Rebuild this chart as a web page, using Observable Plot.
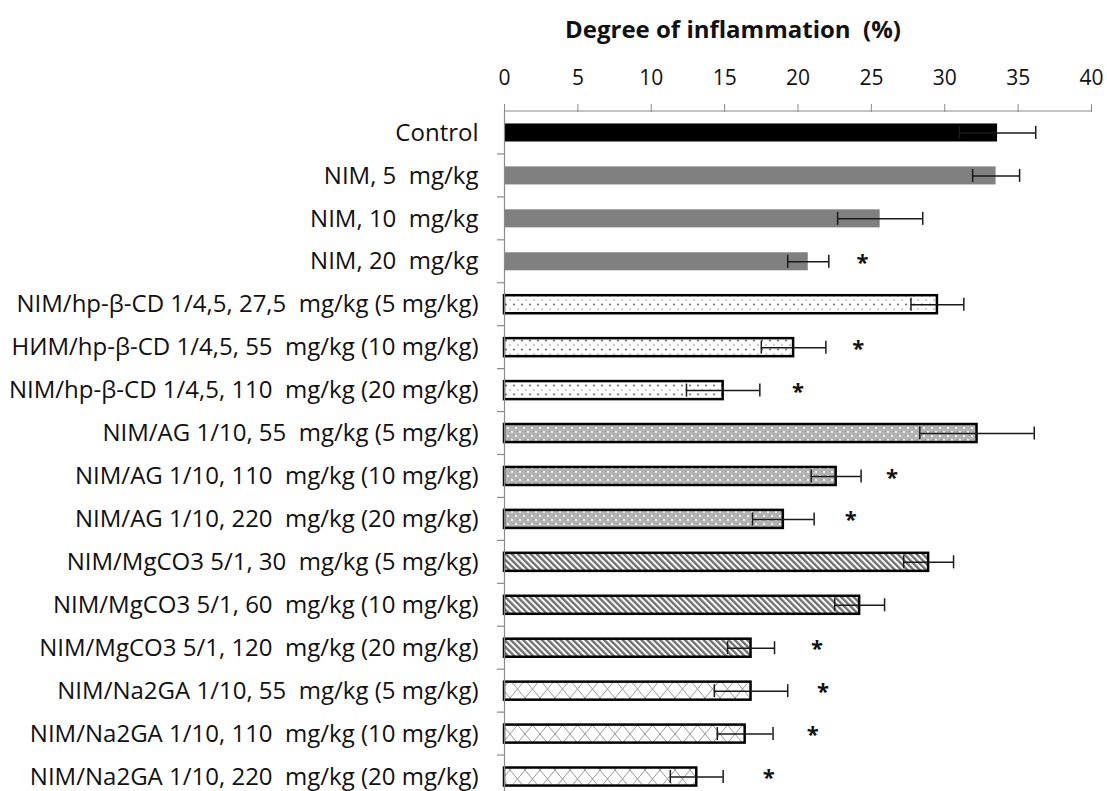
<!DOCTYPE html>
<html><head><meta charset="utf-8">
<script src="https://cdn.jsdelivr.net/npm/d3@7"></script>
<script src="https://cdn.jsdelivr.net/npm/@observablehq/plot@0.6"></script>
<style>
html,body{margin:0;padding:0;background:#fff;overflow:hidden;}
#title{box-sizing:border-box;height:50px;padding-top:14px;padding-left:565px;font-family:"Open Sans",sans-serif;font-weight:bold;font-size:24px;line-height:30px;white-space:pre;color:#111;}
svg text{white-space:pre;}
g[aria-label^="y-axis"] text{font-size:24px;}
</style></head><body>
<div id="title">Degree of inflammation  (%)</div>
<div id="chart"></div>
<script>
const categories = [
  "Control",
  "NIM, 5  mg/kg",
  "NIM, 10  mg/kg",
  "NIM, 20  mg/kg",
  "NIM/hp-β-CD 1/4,5, 27,5  mg/kg (5 mg/kg)",
  "НИМ/hp-β-CD 1/4,5, 55  mg/kg (10 mg/kg)",
  "NIM/hp-β-CD 1/4,5, 110  mg/kg (20 mg/kg)",
  "NIM/AG 1/10, 55  mg/kg (5 mg/kg)",
  "NIM/AG 1/10, 110  mg/kg (10 mg/kg)",
  "NIM/AG 1/10, 220  mg/kg (20 mg/kg)",
  "NIM/MgCO3 5/1, 30  mg/kg (5 mg/kg)",
  "NIM/MgCO3 5/1, 60  mg/kg (10 mg/kg)",
  "NIM/MgCO3 5/1, 120  mg/kg (20 mg/kg)",
  "NIM/Na2GA 1/10, 55  mg/kg (5 mg/kg)",
  "NIM/Na2GA 1/10, 110  mg/kg (10 mg/kg)",
  "NIM/Na2GA 1/10, 220  mg/kg (20 mg/kg)"
];
const groups = ["control","nim","nim","nim","hp","hp","hp","ag","ag","ag","mg","mg","mg","na","na","na"];
const values = [33.6, 33.5, 25.6, 20.7, 29.5, 19.7, 14.9, 32.2, 22.6, 19.0, 28.9, 24.2, 16.8, 16.8, 16.4, 13.1];
const errors = [2.6, 1.6, 2.9, 1.4, 1.8, 2.2, 2.5, 3.9, 1.7, 2.1, 1.7, 1.7, 1.6, 2.5, 1.9, 1.8];
const starX  = [null, null, null, 24.4, null, 24.1, 20.0, null, 26.4, 23.6, null, null, 21.3, 21.7, 21.0, 18.0];
const xTicks = [0, 5, 10, 15, 20, 25, 30, 35, 40];

const data = categories.map((c, i) => ({cat: c, group: groups[i], v: values[i], e: errors[i], star: starX[i]}));
const fills = {control: "#000000", nim: "#808080", hp: "url(#p-hp)", ag: "url(#p-ag)", mg: "url(#p-mg)", na: "url(#p-na)"};
const bordered = new Set(["hp", "ag", "mg", "na"]);

const plot = Plot.plot({
  width: 1107, height: 748,
  marginLeft: 504, marginRight: 16, marginTop: 61, marginBottom: 0,
  style: {fontFamily: "'Open Sans', sans-serif", fontSize: "21px", color: "#111", background: "#fff"},
  x: {domain: [0, 40], axis: "top", ticks: xTicks, tickSize: 8, tickPadding: 19, label: null},
  y: {domain: categories, paddingInner: 0.58, paddingOuter: 0.29, round: false, tickSize: 0, tickPadding: 26, label: null},
  color: {type: "identity"},
  marks: [
    Plot.barX(data.filter(d => !bordered.has(d.group)), {x: "v", y: "cat", fill: d => fills[d.group]}),
    Plot.barX(data.filter(d => bordered.has(d.group)), {x: "v", y: "cat", fill: d => fills[d.group], stroke: "#000", strokeWidth: 2.5}),
    Plot.ruleY(data, {y: "cat", x1: d => d.v - d.e, x2: d => d.v + d.e, stroke: "#1a1a1a", strokeWidth: 1.5}),
    Plot.tickX(data, {y: "cat", x: d => d.v - d.e, stroke: "#1a1a1a", strokeWidth: 1.5, insetTop: 2.5, insetBottom: 2.5}),
    Plot.tickX(data, {y: "cat", x: d => d.v + d.e, stroke: "#1a1a1a", strokeWidth: 1.5, insetTop: 2.5, insetBottom: 2.5}),
    Plot.text(data.filter(d => d.star != null), {x: "star", y: "cat", text: () => "*", fontSize: 22, fontWeight: "bold", dy: 1, fill: "#111"}),
    Plot.ruleX([0], {stroke: "#8a8a8a", strokeWidth: 1.2})
  ]
});

const svg = d3.select(plot);
const defs = svg.insert("defs", ":first-child");
const pHp = defs.append("pattern").attr("id", "p-hp").attr("patternUnits", "userSpaceOnUse").attr("width", 8).attr("height", 9);
pHp.append("rect").attr("width", 8).attr("height", 9).attr("fill", "#fff");
pHp.append("circle").attr("cx", 2).attr("cy", 2.5).attr("r", 0.9).attr("fill", "#555");
pHp.append("circle").attr("cx", 6).attr("cy", 7).attr("r", 0.7).attr("fill", "#777");
const pAg = defs.append("pattern").attr("id", "p-ag").attr("patternUnits", "userSpaceOnUse").attr("width", 8).attr("height", 8);
pAg.append("rect").attr("width", 8).attr("height", 8).attr("fill", "#b3b3b3");
pAg.append("rect").attr("x", 1).attr("y", 1).attr("width", 1).attr("height", 1).attr("fill", "#949494");
pAg.append("rect").attr("x", 5).attr("y", 5).attr("width", 1).attr("height", 1).attr("fill", "#949494");
pAg.append("circle").attr("cx", 4).attr("cy", 2).attr("r", 1.1).attr("fill", "#fff");
pAg.append("circle").attr("cx", 0).attr("cy", 6).attr("r", 1.1).attr("fill", "#fff");
pAg.append("circle").attr("cx", 8).attr("cy", 6).attr("r", 1.1).attr("fill", "#fff");
const pMg = defs.append("pattern").attr("id", "p-mg").attr("patternUnits", "userSpaceOnUse").attr("width", 4.4).attr("height", 10).attr("patternTransform", "rotate(-45)");
pMg.append("rect").attr("width", 4.4).attr("height", 10).attr("fill", "#fff");
pMg.append("rect").attr("width", 2.4).attr("height", 10).attr("fill", "#707070");
const pNa = defs.append("pattern").attr("id", "p-na").attr("patternUnits", "userSpaceOnUse").attr("width", 15).attr("height", 18);
pNa.append("rect").attr("width", 15).attr("height", 18).attr("fill", "#fff");
pNa.append("path").attr("d", "M0,0L15,18M15,0L0,18").attr("stroke", "#999").attr("stroke-width", 1).attr("fill", "none");

const xs = plot.scale("x"), ys = plot.scale("y");
const x0 = xs.apply(0), x40 = xs.apply(40);
const frameTop = ys.range[0];
svg.append("line").attr("x1", x0).attr("x2", x40).attr("y1", frameTop).attr("y2", frameTop).attr("stroke", "#8a8a8a").attr("stroke-width", 1.2);
const gap = (ys.step - ys.bandwidth) / 2;
const bounds = categories.map(c => ys.apply(c) - gap);
bounds.push(ys.apply(categories[categories.length - 1]) + ys.bandwidth + gap);
bounds.slice(1).forEach(b => {
  svg.append("line").attr("x1", x0 - 7).attr("x2", x0).attr("y1", b).attr("y2", b).attr("stroke", "#8a8a8a").attr("stroke-width", 1.2);
});
svg.selectAll('g[aria-label="x-axis tick"]').attr("stroke", "#8a8a8a");
document.getElementById("chart").appendChild(plot);
</script>
</body></html>
